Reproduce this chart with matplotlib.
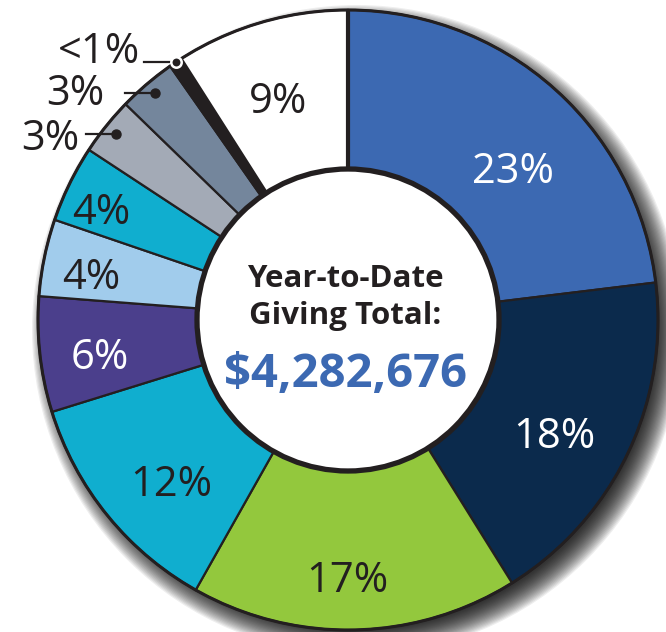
import numpy as np
import matplotlib
matplotlib.use("Agg")
import matplotlib.pyplot as plt
from matplotlib.patches import Circle

# ---- data ----
labels = ["23%", "18%", "17%", "12%", "6%", "4%", "4%", "3%", "3%", "<1%", "9%"]
values = [23, 18, 17, 12, 6, 4, 4, 3, 3, 0.7, 9]
colors = ["#3C69B2", "#0B2A4C", "#93C83D", "#10AECF", "#4B3F8C", "#A1CCEC",
          "#10AECF", "#A3AAB6", "#74869C", "#231F20", "#FFFFFF"]
label_colors = ["white", "white", "#231F20", "#231F20", "white", "#231F20",
                "#231F20", "#231F20", "#231F20", "#231F20", "#231F20"]
center_title = ["Year-to-Date", "Giving Total:"]
center_total = "$4,282,676"

# ---- style ----
FONT = ["Open Sans", "DejaVu Sans"]
INK = "#231F20"
W, H = 666, 632
CX, CY = 348, 312
R_OUT, R_IN = 310, 151
# label radius (px) and clockwise angular nudge (deg) for inside labels
label_r = [224, 235, 257, 239, 251, 261, 270, None, None, None, 233]
label_nudge = [5.9, 3.2, 1.4, -3.4, -1.5, -1.6, -1.9, 0, 0, 0, -1.3]
# outside labels: dot radius, leader length, text gap, text dy
outside = {7: (298, 30, 6, -2), 8: (298, 30, 20, 3), 9: (310, 32, 4, 14)}
PCT_FS = 30
CAP = 0.714 * PCT_FS * 100 / 72  # cap height in px

fig = plt.figure(figsize=(W / 100, H / 100), dpi=100)
ax = fig.add_axes([0, 0, 1, 1])

# soft drop shadow (stacked translucent discs, offset to lower right)
n_layers = 22
for k in range(n_layers):
    rr = R_OUT + 15 - k * 1.2
    ax.add_patch(Circle((CX + 9, CY - 10), rr, facecolor="black", edgecolor="none",
                        alpha=0.065, zorder=0.5))

wedges, _ = ax.pie(values, radius=R_OUT, center=(CX, CY), startangle=90,
                   counterclock=False, colors=colors,
                   wedgeprops=dict(width=R_OUT - R_IN, edgecolor=INK, linewidth=1.6))
for w in wedges:
    w.set_zorder(2)
ax.set_xlim(0, W)
ax.set_ylim(0, H)
ax.set_aspect("equal")
ax.axis("off")

ax.add_patch(Circle((CX, CY), R_IN, facecolor="white", edgecolor=INK, lw=3.8, zorder=3))
ax.add_patch(Circle((CX, CY), R_OUT, facecolor="none", edgecolor=INK, lw=2.2, zorder=3))
ax.plot([CX, CX], [CY + R_IN, CY + R_OUT], color=INK, lw=3, zorder=3, solid_capstyle="butt")

for i, w in enumerate(wedges):
    mid = np.deg2rad((w.theta1 + w.theta2) / 2)
    if i in outside:
        r, ln, gap, dy = outside[i]
        px, py = CX + r * np.cos(mid), CY + r * np.sin(mid)
        ax.plot([px - ln, px], [py, py], color=INK, lw=1.6, zorder=4)
        if i == 9:
            ax.plot(px, py, "o", ms=7.5, mfc=INK, mec="white", mew=1.8, zorder=5)
        else:
            ax.plot(px, py, "o", ms=6.5, mfc=INK, mec=INK, zorder=5)
        ax.text(px - ln - gap, py + dy - CAP / 2, labels[i], ha="right", va="baseline",
                fontsize=30, color=INK, family=FONT, zorder=5)
    else:
        ang = mid - np.deg2rad(label_nudge[i])
        r = label_r[i]
        ax.text(CX + r * np.cos(ang), CY + r * np.sin(ang) - CAP / 2, labels[i],
                ha="center", va="baseline", fontsize=PCT_FS, color=label_colors[i],
                family=FONT, zorder=5)

TX = 345
ax.text(TX, H - 287, center_title[0], ha="center", va="baseline", fontsize=22.5,
        fontweight="bold", color=INK, family=FONT, zorder=5)
ax.text(TX, H - 324, center_title[1], ha="center", va="baseline", fontsize=22.5,
        fontweight="bold", color=INK, family=FONT, zorder=5)
ax.text(TX, H - 387, center_total, ha="center", va="baseline", fontsize=34,
        fontweight="bold", color="#3C69B2", family=FONT, zorder=5)

fig.savefig("out.png", dpi=100)
